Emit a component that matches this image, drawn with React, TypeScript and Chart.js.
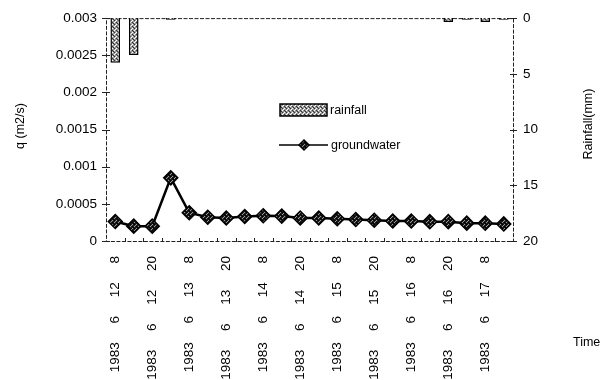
import React, { useEffect, useRef } from 'react';
import { Chart, registerables } from 'chart.js';

Chart.register(...registerables);

const categories = [
  '1983 6 12 8', '1983 6 12 14', '1983 6 12 20', '1983 6 13 2', '1983 6 13 8', '1983 6 13 14',
  '1983 6 13 20', '1983 6 14 2', '1983 6 14 8', '1983 6 14 14', '1983 6 14 20', '1983 6 15 2',
  '1983 6 15 8', '1983 6 15 14', '1983 6 15 20', '1983 6 16 2', '1983 6 16 8', '1983 6 16 14',
  '1983 6 16 20', '1983 6 17 2', '1983 6 17 8', '1983 6 17 14',
];

const groundwater = [
  0.000262, 0.0002, 0.0002, 0.00085, 0.00038, 0.00032, 0.00031, 0.00033, 0.00034, 0.000335, 0.00031,
  0.00031, 0.0003, 0.00029, 0.00028, 0.00027, 0.00027, 0.00026, 0.00026, 0.00024, 0.00024, 0.00023,
];

const rainfall = [
  4.0, 3.3, 0, 0.15, 0, 0, 0, 0, 0, 0, 0,
  0, 0, 0, 0, 0, 0, 0, 0.35, 0.15, 0.35, 0.15,
];

const qTickLabels = ['0', '0.0005', '0.001', '0.0015', '0.002', '0.0025', '0.003'];
const rainTickLabels = ['0', '5', '10', '15', '20'];

const FONT = '"Liberation Sans", Arial, sans-serif';

function makePattern(ctx: CanvasRenderingContext2D, bg: string, light: string, dark: string) {
  const pc = document.createElement('canvas');
  pc.width = 4;
  pc.height = 4;
  const g = pc.getContext('2d')!;
  g.fillStyle = bg;
  g.fillRect(0, 0, 4, 4);
  g.fillStyle = light;
  g.fillRect(0, 0, 1, 1);
  g.fillRect(2, 2, 1, 1);
  g.fillRect(3, 1, 1, 1);
  g.fillStyle = dark;
  g.fillRect(2, 0, 1, 1);
  g.fillRect(0, 2, 1, 1);
  g.fillRect(1, 3, 1, 1);
  return ctx.createPattern(pc, 'repeat')!;
}

export default function App() {
  const ref = useRef<HTMLCanvasElement | null>(null);

  useEffect(() => {
    document.body.style.margin = '0';
    const canvas = ref.current!;
    const ctx = canvas.getContext('2d')!;
    const barPattern = makePattern(ctx, '#9a9a9a', '#ffffff', '#333333');
    const pointPattern = makePattern(ctx, '#1a1a1a', '#9a9a9a', '#000000');

    const decor = {
      id: 'decor',
      beforeDatasetsDraw(chart: any) {
        const { ctx: c, chartArea: a, scales } = chart;
        c.save();
        c.strokeStyle = '#222';
        c.lineWidth = 1;
        c.setLineDash([4, 1.5]);
        c.strokeRect(a.left + 0.5, a.top + 0.5, a.right - a.left, a.bottom - a.top);
        c.setLineDash([]);
        const yq = scales.y;
        yq.ticks.forEach((t: any) => {
          const py = Math.round(yq.getPixelForValue(t.value)) + 0.5;
          c.beginPath();
          c.moveTo(a.left - 4, py);
          c.lineTo(a.left + 4, py);
          c.stroke();
        });
        const yr = scales.yRain;
        yr.ticks.forEach((t: any) => {
          const py = Math.round(yr.getPixelForValue(t.value)) + 0.5;
          c.beginPath();
          c.moveTo(a.right - 3, py);
          c.lineTo(a.right + 4, py);
          c.stroke();
        });
        const xs = scales.x;
        for (let i = 0; i < categories.length - 1; i++) {
          const px = Math.round((xs.getPixelForValue(i) + xs.getPixelForValue(i + 1)) / 2) + 0.5;
          c.beginPath();
          c.moveTo(px, a.bottom - 3);
          c.lineTo(px, a.bottom + 1);
          c.stroke();
        }
        c.restore();
      },
      afterDraw(chart: any) {
        const c = chart.ctx;
        c.save();
        c.fillStyle = '#000';
        c.font = `12.5px ${FONT}`;
        c.textBaseline = 'middle';
        c.save();
        c.translate(21, 126);
        c.rotate(-Math.PI / 2);
        c.textAlign = 'center';
        c.fillText('q (m2/s)', 0, 0);
        c.restore();
        c.save();
        c.translate(589, 124);
        c.rotate(-Math.PI / 2);
        c.textAlign = 'center';
        c.fillText('Rainfall(mm)', 0, 0);
        c.restore();
        c.textAlign = 'left';
        c.fillText('Time', 573, 343);
        // legend
        c.fillStyle = barPattern;
        c.fillRect(280, 104, 47, 12);
        c.strokeStyle = '#000';
        c.lineWidth = 1.5;
        c.strokeRect(280, 104, 47, 12);
        c.fillStyle = '#000';
        c.fillText('rainfall', 330, 111);
        c.lineWidth = 1.5;
        c.beginPath();
        c.moveTo(279, 145);
        c.lineTo(328, 145);
        c.stroke();
        c.beginPath();
        c.moveTo(304, 140);
        c.lineTo(309, 145);
        c.lineTo(304, 150);
        c.lineTo(299, 145);
        c.closePath();
        c.fillStyle = pointPattern;
        c.fill();
        c.stroke();
        c.fillStyle = '#000';
        c.fillText('groundwater', 331, 146);
        c.restore();
      },
    };

    const chart = new Chart(canvas, {
      data: {
        labels: categories,
        datasets: [
          {
            type: 'line',
            label: 'groundwater',
            data: groundwater,
            yAxisID: 'y',
            order: 0,
            borderColor: '#000',
            borderWidth: 2.5,
            pointStyle: 'rectRot',
            pointRadius: 7,
            pointBackgroundColor: pointPattern,
            pointBorderColor: '#000',
            pointBorderWidth: 1.5,
            tension: 0,
          },
          {
            type: 'bar',
            label: 'rainfall',
            data: rainfall,
            yAxisID: 'yRain',
            order: 1,
            backgroundColor: barPattern,
            borderColor: '#000',
            borderWidth: 1.5,
            barPercentage: 0.52,
            categoryPercentage: 1,
          },
        ],
      } as any,
      options: {
        responsive: false,
        animation: false,
        layout: { padding: { top: 16, left: 0, right: 0, bottom: 0 } },
        plugins: { legend: { display: false }, tooltip: { enabled: false } },
        scales: {
          x: {
            type: 'category',
            offset: true,
            grid: { display: false, drawTicks: false },
            border: { display: false },
            ticks: {
              autoSkip: false,
              maxRotation: 90,
              minRotation: 90,
              padding: 15,
              color: '#000',
              font: { family: FONT, size: 13.5 },
              callback: (_v: any, i: number) => (i % 2 === 0 ? categories[i].split(' ').join('     ') : ''),
            },
            afterFit: (s: any) => { s.height = 139; },
          },
          y: {
            type: 'linear',
            position: 'left',
            min: 0,
            max: 0.003,
            grid: { display: false, drawTicks: false },
            border: { display: false },
            afterBuildTicks: (s: any) => { s.ticks = qTickLabels.map((_l, i) => ({ value: i * 0.0005 })); },
            ticks: {
              padding: 9,
              color: '#000',
              font: { family: FONT, size: 13.5 },
              callback: (_v: any, i: number) => qTickLabels[i],
            },
            afterFit: (s: any) => { s.width = 106; },
          },
          yRain: {
            type: 'linear',
            position: 'right',
            reverse: true,
            min: 0,
            max: 20,
            grid: { display: false, drawTicks: false },
            border: { display: false },
            afterBuildTicks: (s: any) => { s.ticks = rainTickLabels.map((l) => ({ value: Number(l) })); },
            ticks: {
              padding: 10,
              color: '#000',
              font: { family: FONT, size: 13.5 },
              callback: (_v: any, i: number) => rainTickLabels[i],
            },
            afterFit: (s: any) => { s.width = 100; },
          },
        },
      },
      plugins: [decor],
    });
    return () => chart.destroy();
  }, []);

  return (
    <div style={{ width: 613, height: 380, background: '#fff' }}>
      <canvas ref={ref} width={613} height={380} />
    </div>
  );
}
